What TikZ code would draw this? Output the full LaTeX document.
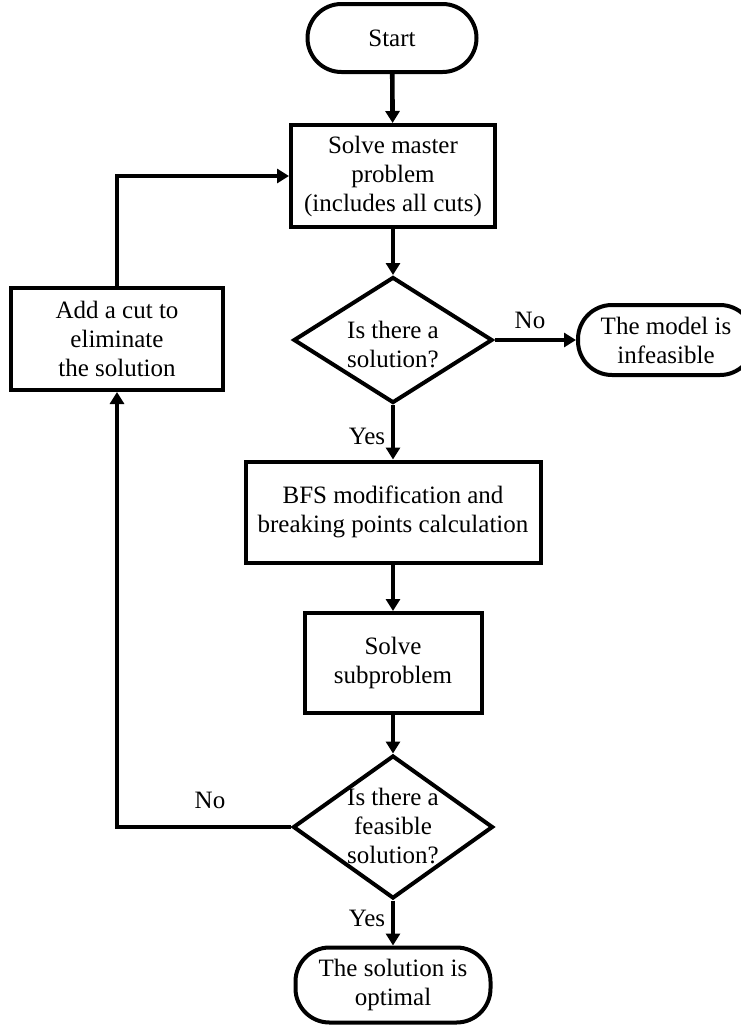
\documentclass[tikz,border=0pt]{standalone}
\usepackage{fontspec}
\setmainfont{Liberation Serif}
\usetikzlibrary{arrows.meta,shapes.geometric}
\begin{document}
\begin{tikzpicture}[x=1pt,y=-1pt,
  every node/.style={font=\fontsize{25}{29}\selectfont, align=center},
  flow/.style={line width=4.6pt, -{Triangle[length=12pt,width=14pt]}},
  procbox/.style={draw, line width=4pt, rectangle, inner sep=0pt},
  termbox/.style={draw, line width=4pt, rectangle, rounded corners=34pt, inner sep=0pt},
  decision/.style={draw, line width=4pt, diamond, inner sep=0pt},
  lbl/.style={inner sep=0pt}]
\useasboundingbox (0,0) rectangle (741,1026);

% terminals
\node[termbox, minimum width=169pt, minimum height=68pt] (start) at (392,38) {Start};
\node[termbox, minimum width=176pt, minimum height=70pt] (infeas) at (666,340) {The model is\\infeasible};
\node[termbox, minimum width=195pt, minimum height=75pt] (opt) at (393,985) {The solution is\\optimal};

% processes
\node[procbox, minimum width=204pt, minimum height=102pt] (master) at (393,176) {Solve master\\problem\\(includes all cuts)};
\node[procbox, minimum width=212pt, minimum height=102pt] (addcut) at (117,339) {Add a cut to\\eliminate\\the solution};
\node[procbox, minimum width=295pt, minimum height=101pt] (bfs) at (393,512) {BFS modification and\\breaking points calculation};
\node[procbox, minimum width=177pt, minimum height=100pt] (sub) at (393,663) {Solve\\subproblem};

% decisions
\node[decision, minimum width=199pt, minimum height=126pt] (d1) at (393,340) {};
\node[lbl] (d1t) at (393,344) {Is there a\\solution?};
\node[decision, minimum width=200pt, minimum height=143pt] (d2) at (393,827) {};
\node[lbl] (d2t) at (393,826) {Is there a\\feasible\\solution?};

% branch labels
\node[lbl] (no1) at (530,320) {No};
\node[lbl] (yes1) at (367,436) {Yes};
\node[lbl] (no2) at (210,800) {No};
\node[lbl] (yes2) at (367,918) {Yes};

% connectors
\draw[flow] (start) -- (master);
\draw[flow] (master) -- (d1);
\draw[flow] (d1) -- (infeas);
\draw[flow] (d1) -- (bfs);
\draw[flow] (bfs) -- (sub);
\draw[flow] (sub) -- (d2);
\draw[flow] (d2) -- (opt);
\draw[flow] (d2.west) -| (addcut.south);
\draw[flow] (addcut.north) |- (master.west);
\end{tikzpicture}
\end{document}
